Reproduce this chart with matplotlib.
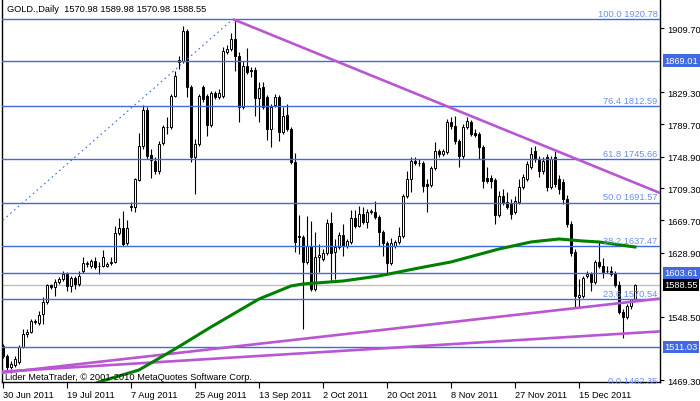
import matplotlib
matplotlib.use("Agg")
import matplotlib.pyplot as plt
import matplotlib.transforms as mtransforms

# ---------------- data (daily OHLC, GOLD) ----------------
opens = [1512.25,1499.75,1486,1488.5,1492.25,1511,1527.25,1529.75,1542.25,1541,
         1552.25,1567.25,1588.5,1586,1592.25,1596,1602.25,1587.25,1597.25,1589.75,
         1606,1614.75,1612.25,1618.5,1612.25,1612.25,1612.25,1616,1617.25,1653.5,
         1659.75,1641,1686,1686,1719.75,1762.25,1807.25,1751,1743.5,1731,
         1766,1786,1786,1824.75,1867.25,1868.5,1906,1836,1748.5,1764.75,
         1836,1824.75,1788.5,1828.5,1823.5,1824.75,1879.75,1883.5,1896,1874.75,
         1811,1862.25,1857.25,1857.25,1822.25,1836,1823.5,1783.5,1813.5,1823.5,
         1779.75,1801,1783.5,1742.25,1649.75,1648.5,1617.25,1637.25,1583.5,1623.5,
         1621,1628.5,1666,1629.75,1636,1651,1637.25,1642.25,1672.25,1662.25,
         1677.25,1667.25,1681,1679.75,1673.5,1654.75,1641,1616,1637.25,1642.25,
         1649.75,1699.75,1721,1743.5,1741,1741,1714.75,1713.5,1734.75,1756,
         1752.25,1754.75,1792.25,1787.25,1768.5,1749.75,1786,1792.25,1778.5,1777.25,
         1761,1722.25,1722.25,1719.75,1676,1699.75,1692.25,1691,1679.75,1692.25,
         1711,1721,1736,1756,1746,1731,1748.5,1711,1748.5,1721,
         1717.25,1696,1664.75,1629.75,1573.5,1574.75,1599.75,1602.25,1592.25,1617.25,
         1612.25,1606,1606,1603.5,1588.5,1554.75,1548.5,1562.25,1570.98]
highs = [1514.75,1502.25,1493.5,1499.75,1513.5,1533.5,1533.5,1546,1546,1556,
         1573.5,1589.75,1589.75,1596,1598.5,1606,1604.75,1599.75,1599.75,1606,
         1623.5,1618.5,1621,1623.5,1617.25,1632.25,1617.25,1623.5,1662.25,1672.25,
         1681,1669.75,1692.25,1722.25,1778.5,1813.5,1811,1758.5,1748.5,1768.5,
         1788.5,1798.5,1827.25,1856,1874.75,1912.25,1908.5,1838.5,1771,1827.25,
         1838.5,1827.25,1831,1831,1833.5,1886,1888.5,1903.5,1920.78,1879.75,
         1868.5,1884.75,1861,1861,1842.25,1842.25,1826,1814.75,1827.25,1826,
         1811,1814.75,1786,1753.5,1676,1651,1674.75,1668.5,1654.75,1639.75,
         1633.5,1671,1679.75,1646,1654.75,1664.75,1646,1682.25,1682.25,1687.25,
         1686,1683.5,1683.5,1693.5,1676,1657.25,1643.5,1647.25,1644.75,1661,
         1702.25,1731,1748.5,1748.5,1746,1743.5,1721,1737.25,1767.25,1758.5,
         1758.5,1796,1798.5,1799.75,1771,1789.75,1798.5,1794.75,1783.5,1779.75,
         1763.5,1736,1726,1722.25,1706,1708.5,1704.75,1696,1699.75,1721,
         1727.25,1743.5,1761,1762.25,1749.75,1748.5,1752.25,1749.75,1756,1726,
         1721,1701,1668.5,1633.5,1596,1599.75,1606,1604.75,1619.75,1643.5,
         1622.25,1612.25,1612.25,1606,1593.5,1558.5,1564.75,1571,1589.98]
lows = [1497.25,1481,1483.5,1486,1489.75,1509.75,1523.5,1528.5,1539.75,1538.5,
        1539.75,1564.75,1583.5,1574.75,1589.75,1593.5,1581,1579.75,1583.5,1587.25,
        1603.5,1611,1609.75,1608.5,1602.25,1611,1611,1613.5,1616,1651,
        1637.25,1638.5,1681,1679.75,1718.5,1758.5,1746,1722.25,1727.25,1727.25,
        1763.5,1777.25,1783.5,1823.5,1858.5,1866,1823.5,1742.25,1702.25,1762.25,
        1817.25,1774.75,1786,1821,1821,1822.25,1877.25,1881,1856,1792.25,
        1808.5,1852.25,1848.5,1799.75,1792.25,1808.5,1769.75,1761,1811,1768.5,
        1777.25,1781,1739.75,1629.75,1627.25,1533.5,1614.75,1581,1581,1604.75,
        1618.5,1626,1593.5,1596,1633.5,1624.75,1634.75,1639.75,1659.75,1661,
        1664.75,1659.75,1677.25,1671,1637.25,1624.75,1603.5,1613.5,1634.75,1639.75,
        1647.25,1697.25,1704.75,1738.5,1737.25,1704.75,1679.75,1711,1732.25,1748.5,
        1749.75,1752.25,1783.5,1764.75,1736,1746,1783.5,1774.75,1773.5,1746,
        1709.75,1716,1709.75,1664.75,1673.5,1688.5,1683.5,1671,1677.25,1689.75,
        1708.5,1718.5,1733.5,1742.25,1723.5,1727.25,1706,1708.5,1711,1702.25,
        1689.75,1661,1624.75,1561,1559.75,1572.25,1597.25,1581,1589.75,1609.75,
        1597.25,1603.5,1599.75,1586,1552.25,1522.25,1546,1558.5,1570.98]
closes = [1499.75,1486,1489.75,1496,1511,1527.25,1529.75,1543.5,1543.5,1551,
          1567.25,1588.5,1586,1592.25,1596,1602.25,1587.25,1597.25,1589.75,1599.75,
          1616,1615.5,1618.5,1611,1612.75,1623.5,1614.75,1617.25,1653.5,1659.75,
          1639.75,1659.75,1687.25,1721,1762.25,1807.25,1749.75,1744.75,1731,1764.75,
          1786,1786.5,1824.75,1849.75,1869.75,1906,1836,1748.5,1764.75,1824.75,
          1821,1788.5,1828.5,1823.5,1828.5,1881,1883.5,1896,1874.75,1811,
          1862.25,1854.75,1856.5,1822.25,1834.75,1811,1783.5,1811,1823.5,1779.75,
          1799.75,1783.5,1742.25,1642.25,1648.5,1617.25,1637.25,1583.5,1623.5,1626,
          1628.5,1666,1628.5,1636,1651,1637.25,1643.5,1672.25,1662.25,1677.25,
          1667.25,1679.75,1679.75,1673.5,1654.75,1641,1616,1641,1642.25,1649.75,
          1699.75,1721,1743.5,1741,1741.5,1712.25,1712.25,1734.75,1756,1752.25,
          1756,1792.25,1787.25,1768.5,1749.75,1786,1793.5,1777.25,1776,1761,
          1718.5,1718.5,1718.5,1676,1699.75,1691,1686,1677.25,1693.5,1711,
          1723.5,1739.75,1752.25,1746,1731,1743.5,1711,1746,1714.75,1708.5,
          1696,1664.75,1628.5,1574.75,1576,1597.25,1602.25,1592.25,1617.25,1612.25,
          1604.75,1605.5,1602.25,1588.5,1554.75,1548.5,1562.25,1570.5,1588.55]

date_tick_bars = [0, 16, 32, 48, 64, 80, 96, 112, 128, 144]
date_tick_labels = ["30 Jun 2011", "19 Jul 2011", "7 Aug 2011", "25 Aug 2011", "13 Sep 2011",
                    "2 Oct 2011", "20 Oct 2011", "8 Nov 2011", "27 Nov 2011", "15 Dec 2011"]
price_ticks = [1909.70, 1829.30, 1789.70, 1748.90, 1709.30, 1669.70, 1628.90, 1548.50, 1469.30]

fib_levels = [0.0, 23.6, 38.2, 50.0, 61.8, 76.4, 100.0]
fib_prices = [1462.35, 1570.54, 1637.47, 1691.57, 1745.66, 1812.59, 1920.78]
fib_anchor_bars = [-47.5, 57.5]
fib_anchor_prices = [1462.35, 1920.78]

hlines_marked = [1869.01, 1603.61, 1511.03]
current_price = 1588.55

trend_top_bars = [57.5, 170]
trend_top_prices = [1920.78, 1691.8]
trend_a_bars = [-0.75, 164.25]
trend_a_prices = [1478.5, 1571.5]
trend_b_bars = [-0.75, 164.25]
trend_b_prices = [1480.0, 1530.5]

ma_bars = [22, 24, 34, 43, 52, 64, 72, 75, 85, 94, 104, 112, 124, 132, 139, 145, 149, 158]
ma_prices = [1463, 1467.3, 1482.3, 1508.5, 1536, 1571, 1587.3, 1589.8, 1593.5, 1599.8,
             1609.8, 1617.3, 1633.5, 1642.3, 1646, 1643.5, 1642.3, 1636]

# ---------------- drawing ----------------
FONT = "Liberation Sans"
FS = 6.7
BLUE = "#4169E1"
FIBTXT = "#6A8FEA"
VIOLET = "#BA55D3"
GREEN = "#008000"

fig = plt.figure(figsize=(7.0, 4.02), dpi=100)
ax = fig.add_axes([2/700, 19/402, 658/700, 382/402])
ax.set_xlim(-0.25, 164.25)
ax.set_ylim(1467.25, 1944.75)

n = len(closes)
xs = list(range(n))

# horizontal lines
for p in fib_prices:
    ax.axhline(p, color=BLUE, lw=1.0, zorder=4)
for p in hlines_marked:
    ax.axhline(p, color=BLUE, lw=1.0, zorder=4)
ax.axhline(current_price, color="#C0C0C0", lw=1.0, zorder=1)

# candles
ax.vlines(xs, lows, highs, color="black", lw=0.8, zorder=2)
for i in range(n):
    o, c = opens[i], closes[i]
    bottom = min(o, c)
    h = max(abs(c - o), 0.3)
    fc = "white" if c >= o else "black"
    ax.bar(i, h, bottom=bottom, width=0.55, color=fc, edgecolor="black",
           linewidth=0.7, zorder=3)

# fib diagonal (dotted)
ax.plot(fib_anchor_bars, fib_anchor_prices, color=BLUE, lw=0.8,
        dashes=(1.5, 3.0), zorder=4)

# trend lines
for bx, by in [(trend_top_bars, trend_top_prices), (trend_a_bars, trend_a_prices),
               (trend_b_bars, trend_b_prices)]:
    ax.plot(bx, by, color=VIOLET, lw=1.9, zorder=5, solid_capstyle="butt")

# moving average
ax.plot(ma_bars, ma_prices, color=GREEN, lw=2.2, zorder=5)

# fib labels
for lvl, p in zip(fib_levels, fib_prices):
    ax.text(163.6, p + 1.5, f"{lvl:.1f} {p:.2f}", ha="right", va="bottom",
            color=FIBTXT, fontsize=FS, family=FONT, zorder=6)

# axes styling
ax.spines["top"].set_visible(False)
for s in ["left", "right", "bottom"]:
    ax.spines[s].set_color("black")
    ax.spines[s].set_linewidth(1.0)

ax.yaxis.tick_right()
ax.set_yticks(price_ticks)
ax.set_yticklabels([f"{p:.2f}" for p in price_ticks], fontsize=FS, family=FONT)
ax.tick_params(axis="y", direction="out", length=3, width=0.8, pad=2, colors="black")

ax.set_xticks(date_tick_bars)
ax.set_xticklabels(date_tick_labels, fontsize=FS, family=FONT)
for lab in ax.get_xticklabels():
    lab.set_horizontalalignment("left")
ax.tick_params(axis="x", direction="out", length=4, width=0.8, pad=2, colors="black")

# highlighted price labels on the right scale
trans = mtransforms.blended_transform_factory(ax.transAxes, ax.transData)
for p in hlines_marked:
    ax.text(1.0065, p, f"{p:.2f}", transform=trans, ha="left", va="center",
            color="white", fontsize=FS, family=FONT, clip_on=False, zorder=10,
            bbox=dict(boxstyle="square,pad=0.18", fc=BLUE, ec="none"))
ax.text(1.0065, current_price, f"{current_price:.2f}", transform=trans, ha="left",
        va="center", color="white", fontsize=FS, family=FONT, clip_on=False, zorder=10,
        bbox=dict(boxstyle="square,pad=0.18", fc="black", ec="none"))

# header / footer text
fig.text(7/700, 1 - 10/402, "GOLD.,Daily  %.2f %.2f %.2f %.2f" % (opens[-1], highs[-1], lows[-1], closes[-1]),
         ha="left", va="center", fontsize=FS, family=FONT, color="black")
fig.text(5/700, 1 - 378/402, "Lider MetaTrader, \u00a9 2001-2010 MetaQuotes Software Corp.",
         ha="left", va="center", fontsize=FS, family=FONT, color="black", zorder=10)

fig.savefig("out.png", dpi=100)
